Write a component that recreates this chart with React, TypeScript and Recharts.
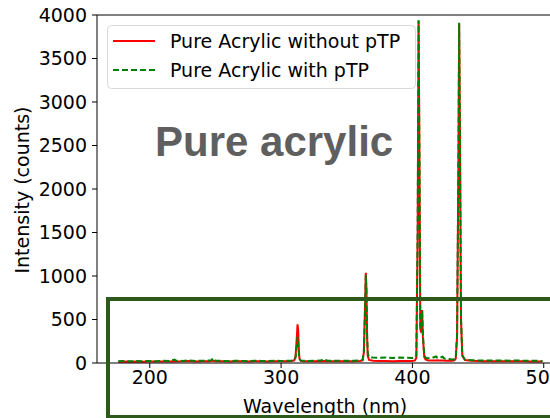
import React from 'react';
import { LineChart, Line, XAxis, YAxis, ReferenceLine, Legend, Label } from 'recharts';

const wavelength = [
  176, 180, 185, 190, 195, 200, 205, 210, 215, 219, 220, 225, 230, 235, 240, 245, 247, 248, 249, 250,
  255, 260, 265, 270, 275, 280, 285, 290, 295, 300, 305, 308, 310, 311, 312, 312.5, 313, 313.5, 314, 315,
  317, 320, 325, 330, 333, 335, 340, 345, 350, 355, 360, 362, 363, 364, 364.5, 365, 365.5, 366, 367, 370,
  375, 380, 385, 390, 395, 400, 402, 403, 404, 404.7, 405.3, 406, 406.6, 407.4, 408, 409, 410, 412, 415, 418,
  419, 420, 423, 424, 425, 428, 430, 432, 433, 434, 435, 435.6, 436.2, 437, 438, 440, 445, 450, 455, 460,
  465, 470, 475, 480, 485, 490, 495, 499,
];

const withoutPTP = [
  15, 16, 14, 17, 15, 18, 16, 17, 18, 20, 18, 19, 22, 18, 20, 21, 22, 28, 24, 20,
  19, 18, 20, 19, 18, 20, 19, 18, 20, 19, 20, 22, 30, 80, 300, 445, 380, 150, 50, 25,
  20, 19, 20, 21, 24, 20, 19, 20, 19, 20, 22, 30, 120, 700, 1038, 850, 300, 80, 35, 25,
  22, 22, 21, 22, 23, 24, 30, 60, 1500, 3935, 2500, 400, 350, 610, 300, 70, 40, 30, 28, 30,
  32, 28, 30, 28, 26, 25, 25, 30, 50, 300, 2200, 3900, 2600, 500, 80, 35, 25, 22, 21, 20,
  21, 20, 19, 20, 19, 18, 18, 17,
];

const withPTP = [
  20, 22, 19, 24, 21, 23, 20, 25, 24, 38, 26, 24, 30, 24, 26, 28, 30, 55, 35, 27,
  24, 23, 25, 24, 23, 26, 24, 23, 25, 24, 25, 26, 32, 60, 200, 300, 260, 110, 45, 28,
  25, 24, 26, 28, 45, 27, 25, 26, 25, 26, 28, 35, 110, 650, 1010, 820, 320, 110, 65, 62,
  60, 63, 58, 62, 60, 58, 62, 90, 1550, 3940, 2550, 420, 380, 600, 320, 90, 60, 55, 58, 75,
  60, 55, 72, 55, 50, 45, 40, 42, 60, 320, 2250, 3910, 2650, 520, 90, 40, 32, 30, 29, 28,
  30, 28, 27, 28, 27, 26, 25, 24,
];

const seriesNames = ['Pure Acrylic without pTP', 'Pure Acrylic with pTP'];
const seriesColors = ['#ff0000', '#008000'];
const xTicks = [200, 300, 400, 500];
const yTicks = [0, 500, 1000, 1500, 2000, 2500, 3000, 3500, 4000];
const xLabel = 'Wavelength (nm)';
const yLabel = 'Intensity (counts)';
const annotation = 'Pure acrylic';

const data = wavelength.map((w, i) => ({ w, a: withoutPTP[i], b: withPTP[i] }));

const FONT = '"DejaVu Sans", sans-serif';

const renderLegend = () => (
  <svg width={310} height={65} style={{ display: 'block' }}>
    <rect x={0.5} y={0.5} width={308} height={63} rx={4} fill="rgba(255,255,255,0.8)" stroke="#d9d9d9" strokeWidth={1} />
    <line x1={6} x2={48} y1={16} y2={16} stroke={seriesColors[0]} strokeWidth={2} />
    <line x1={6} x2={48} y1={45} y2={45} stroke={seriesColors[1]} strokeWidth={2} strokeDasharray="6 3" />
    <text x={63} y={16} dominantBaseline="central" fontFamily={FONT} fontSize={19} fill="#000">{seriesNames[0]}</text>
    <text x={63} y={45} dominantBaseline="central" fontFamily={FONT} fontSize={19} fill="#000">{seriesNames[1]}</text>
  </svg>
);

export default function App() {
  return (
    <div style={{ position: 'absolute', left: 0, top: 0, width: 550, height: 418, overflow: 'hidden', background: '#fff' }}>
      <LineChart width={600} height={418} data={data} margin={{ top: 15, right: 35, left: 0, bottom: 0 }}>
        <XAxis
          dataKey="w"
          type="number"
          domain={[159.8, 516.2]}
          ticks={xTicks}
          allowDataOverflow
          height={55}
          stroke="#000"
          tickSize={5}
          tickMargin={3}
          tick={{ fill: '#000', fontSize: 19, fontFamily: FONT }}
        >
          <Label
            content={() => (
              <text x={325} y={406} textAnchor="middle" dominantBaseline="central" fontFamily={FONT} fontSize={19} fill="#000">
                {xLabel}
              </text>
            )}
          />
        </XAxis>
        <YAxis
          type="number"
          domain={[0, 4000]}
          ticks={yTicks}
          allowDataOverflow
          width={97}
          stroke="#000"
          tickSize={5}
          tickMargin={5}
          tick={{ fill: '#000', fontSize: 19, fontFamily: FONT }}
        >
          <Label
            content={() => (
              <text
                x={22}
                y={190}
                transform="rotate(-90 22 190)"
                textAnchor="middle"
                dominantBaseline="central"
                fontFamily={FONT}
                fontSize={19}
                fill="#000"
              >
                {yLabel}
              </text>
            )}
          />
        </YAxis>
        <ReferenceLine y={4000} stroke="#000" strokeWidth={1} />
        <Legend
          layout="vertical"
          align="center"
          verticalAlign="middle"
          content={renderLegend}
          wrapperStyle={{ left: 107, top: 25, width: 310, height: 65 }}
        />
        <Line
          type="linear"
          dataKey="a"
          name={seriesNames[0]}
          stroke={seriesColors[0]}
          strokeWidth={2}
          dot={false}
          isAnimationActive={false}
        />
        <Line
          type="linear"
          dataKey="b"
          name={seriesNames[1]}
          stroke={seriesColors[1]}
          strokeWidth={2}
          strokeDasharray="6 3"
          dot={false}
          isAnimationActive={false}
        />
      </LineChart>
      <svg width={550} height={418} style={{ position: 'absolute', left: 0, top: 0, pointerEvents: 'none' }}>
        <text x={155} y={156} fontFamily='"Liberation Sans", Arial, sans-serif' fontWeight="bold" fontSize={42} fill="#5f5f5f">
          {annotation}
        </text>
        <rect x={108} y={299} width={460} height={118} fill="none" stroke="#2d5a1b" strokeWidth={4} />
      </svg>
    </div>
  );
}
